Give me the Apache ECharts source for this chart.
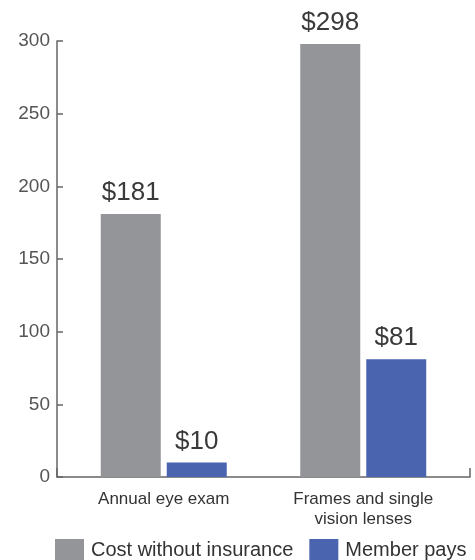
<!DOCTYPE html>
<html>
<head>
<meta charset="utf-8">
<script src="https://cdn.jsdelivr.net/npm/echarts@6/dist/echarts.min.js"></script>
<style>html,body{margin:0;padding:0;background:#fff}#c{width:475px;height:560px}</style>
</head>
<body>
<div id="c"></div>
<script>
const categories = ['Annual eye exam', 'Frames and single\nvision lenses'];
const costWithoutInsurance = [181, 298];
const memberPays = [10, 81];
const yTicks = [0, 50, 100, 150, 200, 250, 300];

const chart = echarts.init(document.getElementById('c'));
const font = 'Liberation Sans, Arial, sans-serif';
const axisColor = '#666';
chart.setOption({
  animation: false,
  textStyle: { fontFamily: font },
  grid: [
    { left: 57, right: 5, top: 41, bottom: 83 },
    { left: 64, right: 12, top: 41, bottom: 83 }
  ],
  legend: {
    top: 534, left: 50,
    itemWidth: 29, itemHeight: 23, itemGap: 16,
    icon: 'rect',
    textStyle: { fontSize: 20, color: '#333', fontFamily: font, padding: [0, 0, 0, 2] },
    data: ['Cost without insurance', 'Member pays']
  },
  xAxis: [
    {
      gridIndex: 0, type: 'category', data: categories,
      axisLine: { lineStyle: { color: axisColor, width: 1.5 } },
      axisTick: { show: true, inside: true, length: 9, lineStyle: { color: axisColor, width: 1.5 },
        interval: function (i) { return i !== 1; } },
      axisLabel: { show: false }
    },
    {
      gridIndex: 1, type: 'category', data: categories,
      axisLine: { show: false }, axisTick: { show: false },
      axisLabel: { fontSize: 17, color: '#333', margin: 12, lineHeight: 20, fontFamily: font }
    }
  ],
  yAxis: [
    {
      gridIndex: 0, type: 'value',
      min: yTicks[0], max: yTicks[yTicks.length - 1], interval: 50,
      splitLine: { show: false },
      axisLine: { show: true, lineStyle: { color: axisColor, width: 1.5 } },
      axisTick: { show: true, inside: true, length: 6, lineStyle: { color: axisColor, width: 1.5 } },
      axisLabel: { fontSize: 19, color: '#555', margin: 7, fontFamily: font }
    },
    {
      gridIndex: 1, type: 'value',
      min: yTicks[0], max: yTicks[yTicks.length - 1], interval: 50,
      show: false, splitLine: { show: false }
    }
  ],
  series: [
    {
      name: 'Cost without insurance', type: 'bar', data: costWithoutInsurance,
      xAxisIndex: 1, yAxisIndex: 1,
      barWidth: 60, barGap: '10%',
      itemStyle: { color: '#939598' },
      label: { show: true, position: 'top', distance: 8, fontSize: 26, color: '#3a3a3a', fontFamily: font,
        formatter: p => '$' + p.value }
    },
    {
      name: 'Member pays', type: 'bar', data: memberPays,
      xAxisIndex: 1, yAxisIndex: 1,
      barWidth: 60, barGap: '10%',
      itemStyle: { color: '#4a64b0' },
      label: { show: true, position: 'top', distance: 8, fontSize: 26, color: '#3a3a3a', fontFamily: font,
        formatter: p => '$' + p.value }
    }
  ]
});
</script>
</body>
</html>
